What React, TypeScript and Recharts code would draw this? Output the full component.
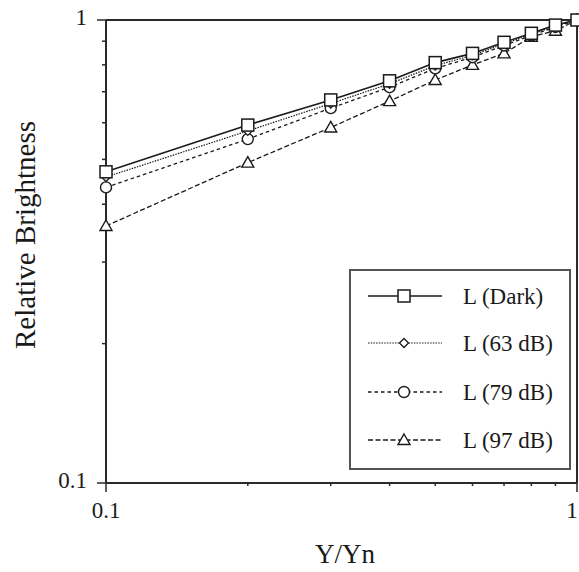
import React from 'react';
import { LineChart, Line, XAxis, YAxis, ReferenceLine, Customized } from 'recharts';

const xValues = [0.1, 0.2, 0.3, 0.4, 0.5, 0.6, 0.7, 0.8, 0.9, 1.0];
const darkValues = [0.47, 0.593, 0.672, 0.739, 0.809, 0.847, 0.895, 0.936, 0.975, 1.0];
const db63Values = [0.458, 0.576, 0.66, 0.728, 0.797, 0.839, 0.889, 0.931, 0.971, 1.0];
const db79Values = [0.435, 0.553, 0.645, 0.716, 0.786, 0.831, 0.881, 0.926, 0.966, 1.0];
const db97Values = [0.359, 0.492, 0.586, 0.668, 0.742, 0.8, 0.847, 0.92, 0.948, 1.0];
const tickValues = [0.1, 0.2, 0.3, 0.4, 0.5, 0.6, 0.7, 0.8, 0.9, 1.0];
const majorTicks = [0.1, 1.0];
const seriesNames = ['L (Dark)', 'L (63 dB)', 'L (79 dB)', 'L (97 dB)'];
const xTitle = 'Y/Yn';
const yTitle = 'Relative Brightness';

const data = xValues.map((x, i) => ({
  x,
  dark: darkValues[i],
  db63: db63Values[i],
  db79: db79Values[i],
  db97: db97Values[i],
}));

const FONT = "'Liberation Serif', 'Noto Serif', 'DejaVu Serif', Tinos, 'FreeSerif', 'Nimbus Roman', Times, serif";
const INK = '#1a1a1a';
const AXIS = '#2a2a2a';
const textStyle = { fontFamily: FONT };

const isMajor = (v: number) => majorTicks.some((m) => Math.abs(m - v) < 1e-9);
const fmt = (v: number) => (Math.abs(v - 1) < 1e-9 ? '1' : String(v));

const XTick = (props: any) => {
  const { x, y, payload } = props;
  const v = payload.value;
  const major = isMajor(v);
  const isOne = Math.abs(v - 1) < 1e-9;
  return (
    <g>
      <line x1={x} x2={x} y1={y} y2={y + (major ? 9 : 3)} stroke={AXIS} strokeWidth={1.5} />
      {major && (
        <text x={isOne ? x - 5 : x} y={y + 35} textAnchor="middle" style={textStyle} fontSize={23} fill={INK}>
          {fmt(v)}
        </text>
      )}
    </g>
  );
};

const YTick = (props: any) => {
  const { x, y, payload } = props;
  const v = payload.value;
  const major = isMajor(v);
  return (
    <g>
      <line x1={x} x2={x - (major ? 9 : 4)} y1={y} y2={y} stroke={AXIS} strokeWidth={1.5} />
      {major && (
        <text x={x - 19} y={y + 5} textAnchor="end" style={textStyle} fontSize={23} fill={INK}>
          {fmt(v)}
        </text>
      )}
    </g>
  );
};

const Square = ({ cx, cy, k }: any) => (
  <rect key={k} x={cx - 6} y={cy - 6} width={12} height={12} fill="#fff" stroke={INK} strokeWidth={1.5} />
);
const Diamond = ({ cx, cy, k }: any) => (
  <path key={k} d={`M${cx},${cy - 4.5}L${cx + 4.5},${cy}L${cx},${cy + 4.5}L${cx - 4.5},${cy}Z`} fill="#fff" stroke={INK} strokeWidth={1.3} />
);
const Circle = ({ cx, cy, k }: any) => (
  <circle key={k} cx={cx} cy={cy} r={5.5} fill="#fff" stroke={INK} strokeWidth={1.4} />
);
const Triangle = ({ cx, cy, k }: any) => (
  <path key={k} d={`M${cx},${cy - 6}L${cx + 6},${cy + 4.5}L${cx - 6},${cy + 4.5}Z`} fill="#fff" stroke={INK} strokeWidth={1.4} />
);

const styles = [
  { key: 'dark', dash: undefined as string | undefined, width: 1.6, Marker: Square },
  { key: 'db63', dash: '1.5 1.2', width: 1.2, Marker: Diamond },
  { key: 'db79', dash: '3.5 3', width: 1.3, Marker: Circle },
  { key: 'db97', dash: '5 2.5', width: 1.3, Marker: Triangle },
];

const Extras = () => {
  const rowY = [296, 343, 392, 440];
  return (
    <g>
      <text x={345} y={563} textAnchor="middle" style={textStyle} fontSize={27} fill={INK}>
        {xTitle}
      </text>
      <text
        x={35}
        y={235}
        textAnchor="middle"
        style={textStyle}
        fontSize={29}
        fill={INK}
        transform="rotate(-90, 35, 235)"
      >
        {yTitle}
      </text>
      <rect x={350} y={270} width={220} height={199} fill="#fff" stroke="#555" strokeWidth={2} />
      {styles.map((s, i) => {
        const M = s.Marker;
        return (
          <g key={s.key}>
            <line x1={368} x2={442} y1={rowY[i]} y2={rowY[i]} stroke={INK} strokeWidth={s.width} strokeDasharray={s.dash} />
            <M cx={404} cy={rowY[i]} k={`lm-${i}`} />
            <text x={463} y={rowY[i] + 8} style={textStyle} fontSize={23} fill={INK}>
              {seriesNames[i]}
            </text>
          </g>
        );
      })}
    </g>
  );
};

export default function App() {
  const order = [3, 2, 1, 0];
  return (
    <div style={{ position: 'absolute', left: 0, top: 0, fontFamily: FONT }}>
      <LineChart width={579} height={572} data={data} margin={{ top: 20, right: 2, left: 76, bottom: 59 }}>
        <XAxis
          dataKey="x"
          type="number"
          scale="log"
          domain={[0.1, 1]}
          ticks={tickValues}
          interval={0}
          height={30}
          tickSize={0}
          tickMargin={0}
          tickLine={false}
          axisLine={{ stroke: AXIS, strokeWidth: 2 }}
          tick={<XTick />}
        />
        <YAxis
          type="number"
          scale="log"
          domain={[0.1, 1]}
          ticks={tickValues}
          interval={0}
          width={30}
          tickSize={0}
          tickMargin={0}
          tickLine={false}
          axisLine={{ stroke: AXIS, strokeWidth: 2 }}
          tick={<YTick />}
        />
        <ReferenceLine y={1} stroke={AXIS} strokeWidth={2} />
        <ReferenceLine x={1} stroke={AXIS} strokeWidth={2} />
        {order.map((i) => {
          const s = styles[i];
          const M = s.Marker;
          return (
            <Line
              key={s.key}
              dataKey={s.key}
              type="linear"
              stroke={INK}
              strokeWidth={s.width}
              strokeDasharray={s.dash}
              isAnimationActive={false}
              dot={(p: any) => <M key={`${s.key}-${p.index}`} cx={p.cx} cy={p.cy} k={`${s.key}-${p.index}`} />}
              activeDot={false}
            />
          );
        })}
        <Customized component={<Extras />} />
      </LineChart>
    </div>
  );
}
